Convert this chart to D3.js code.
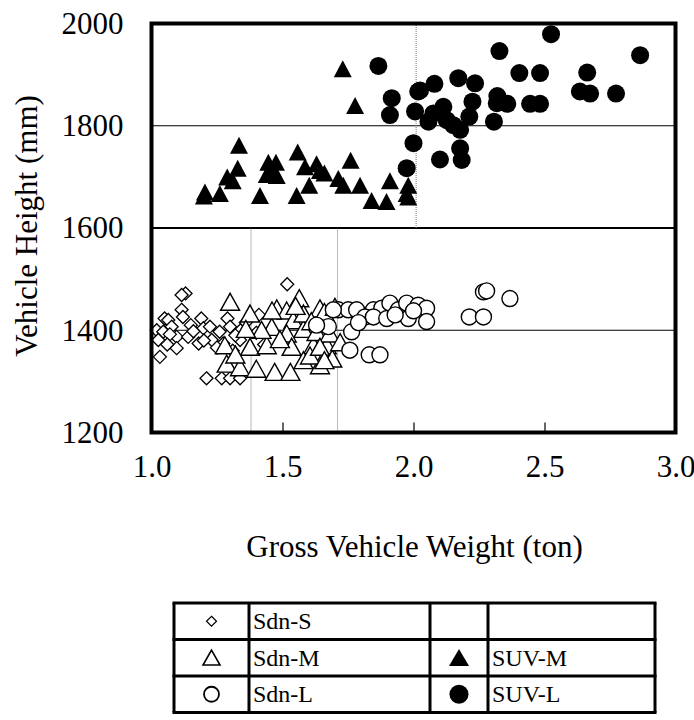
<!DOCTYPE html>
<html>
<head>
<meta charset="utf-8">
<script src="https://cdn.jsdelivr.net/npm/d3@7"></script>
<style>
  html, body { margin: 0; padding: 0; background: #fff; }
</style>
</head>
<body>
<svg id="chart" width="694" height="720"></svg>
<script>
// Gross vehicle weight (ton) vs. vehicle height (mm), by vehicle class
const sdnS = [
  [1.13,1472],[1.115,1469],[1.115,1440],[1.518,1490],[1.05,1423],[1.064,1420],[1.12,1426],
  [1.19,1423],[1.02,1400],[1.077,1407],[1.045,1397],[1.026,1381],[1.096,1387],[1.14,1387],
  [1.198,1404],[1.223,1407],[1.18,1374],[1.096,1365],[1.032,1348],[1.26,1397],[1.29,1423],
  [1.30,1407],[1.34,1400],[1.23,1381],[1.274,1374],[1.21,1306],[1.268,1306],[1.30,1306],
  [1.338,1306],[1.338,1381],[1.41,1430],[1.07,1392],[1.15,1410],[1.20,1380],[1.25,1366],
  [1.32,1390],[1.36,1415],[1.40,1395],[1.43,1372],[1.16,1398],[1.06,1372],[1.31,1360]
];
const sdnM = [
  [1.30,1453],[1.564,1460],[1.376,1430],[1.478,1440],[1.516,1436],[1.643,1440],[1.459,1404],
  [1.541,1417],[1.58,1400],[1.516,1391],[1.28,1368],[1.376,1365],[1.44,1368],[1.535,1365],
  [1.618,1368],[1.669,1368],[1.287,1332],[1.338,1325],[1.40,1322],[1.47,1316],[1.53,1316],
  [1.58,1339],[1.643,1329],[1.69,1342],[1.605,1348],[1.46,1436],[1.58,1430],[1.63,1394],
  [1.68,1391],[1.66,1433],[1.643,1365],[1.66,1339],[1.72,1374],[1.70,1443],[1.42,1398],
  [1.49,1380],[1.36,1400],[1.55,1445],[1.61,1415],[1.32,1350]
];
const sdnL = [
  [2.267,1475],[2.279,1477],[2.368,1462],[2.213,1426],[2.267,1426],[1.713,1440],[1.751,1440],
  [1.783,1440],[1.847,1440],[1.879,1443],[1.91,1453],[1.942,1440],[1.974,1453],[2.018,1449],
  [2.05,1443],[1.815,1426],[1.847,1426],[1.898,1423],[1.98,1423],[2.05,1417],[1.675,1407],
  [1.764,1397],[1.757,1361],[1.831,1352],[1.872,1352],[1.694,1440],[1.63,1410],[1.93,1430],
  [2.0,1438],[1.79,1415]
];
const suvM = [
  [1.73,1909],[1.777,1837],[1.334,1759],[1.558,1746],[1.446,1726],[1.475,1726],[1.76,1730],
  [1.329,1714],[1.586,1717],[1.63,1723],[1.289,1697],[1.44,1702],[1.478,1700],[1.643,1710],
  [1.66,1705],[1.713,1694],[1.732,1681],[1.796,1681],[1.602,1681],[1.91,1690],[1.204,1668],
  [1.261,1665],[1.414,1661],[1.554,1661],[1.84,1651],[1.897,1649],[1.974,1665],[1.98,1681],
  [1.98,1658],[1.20,1660],[1.31,1690],[1.46,1710]
];
const suvL = [
  [1.866,1917],[1.917,1854],[1.91,1821],[2.018,1867],[2.006,1828],[2.0,1766],[1.974,1717],
  [2.525,1979],[2.328,1946],[2.865,1938],[2.404,1903],[2.483,1903],[2.663,1904],[2.171,1893],
  [2.235,1883],[2.08,1882],[2.025,1869],[2.635,1867],[2.674,1863],[2.773,1863],[2.32,1858],
  [2.225,1847],[2.318,1844],[2.358,1843],[2.445,1843],[2.483,1843],[2.114,1837],[2.076,1824],
  [2.213,1818],[2.057,1808],[2.127,1811],[2.152,1801],[2.178,1792],[2.307,1808],[2.178,1756],
  [2.184,1733],[2.101,1734]
];
const xTicks = [1.0, 1.5, 2.0, 2.5, 3.0];
const yTicks = [1200, 1400, 1600, 1800, 2000];
const xTitle = "Gross Vehicle Weight (ton)";
const yTitle = "Vehicle Height (mm)";
const legendRows = [["Sdn-S", null], ["Sdn-M", "SUV-M"], ["Sdn-L", "SUV-L"]];

const FONT = "Liberation Serif";
const svg = d3.select("#chart");
const plotL = 151.5, plotR = 675.5, plotT = 23.5, plotB = 432.5;

const x = d3.scaleLinear().domain([1, 3]).range([plotL, plotR]);
const y = d3.scaleLinear().domain([1200, 2000]).range([plotB, plotT]);

// marker shapes
const shapes = {
  diamond: (s) => `M0,${-s}L${s},0L0,${s}L${-s},0Z`,
  triangle: (w, h) => `M0,${-h * 0.58}L${w / 2},${h * 0.42}L${-w / 2},${h * 0.42}Z`
};

// horizontal grid lines
const grid = svg.append("g");
[1400, 1800].forEach(v => grid.append("line")
  .attr("x1", plotL).attr("x2", plotR).attr("y1", y(v)).attr("y2", y(v))
  .attr("stroke", "#000").attr("stroke-width", 1.2));
grid.append("line")
  .attr("x1", plotL).attr("x2", plotR).attr("y1", y(1600)).attr("y2", y(1600))
  .attr("stroke", "#000").attr("stroke-width", 2.2);

// class boundary lines
const bounds = [[2.01, 1600, 2000], [1.38, 1200, 1600], [1.71, 1200, 1600]];
bounds.forEach(([bx, y0, y1]) => grid.append("line")
  .attr("x1", x(bx)).attr("x2", x(bx)).attr("y1", y(y0)).attr("y2", y(y1))
  .attr("stroke", "#777").attr("stroke-width", 1).attr("stroke-dasharray", "1,1"));

// inner tick marks along the bottom
const xAxis = d3.axisBottom(x).tickValues(xTicks).tickSize(-10).tickPadding(22)
  .tickFormat(d3.format(".1f"));
const gx = svg.append("g").attr("transform", `translate(0,${plotB})`).call(xAxis);
gx.select(".domain").remove();
gx.selectAll(".tick line").attr("stroke", "#000").attr("stroke-width", 1.2);
gx.selectAll(".tick text").attr("fill", "#000").attr("dy", "0.71em")
  .style("font-family", FONT).style("font-size", "31px");

const yAxis = d3.axisLeft(y).tickValues(yTicks).tickSize(0).tickPadding(28)
  .tickFormat(d3.format("d"));
const gy = svg.append("g").attr("transform", `translate(${plotL},0)`).call(yAxis);
gy.select(".domain").remove();
gy.selectAll(".tick text").attr("fill", "#000")
  .style("font-family", FONT).style("font-size", "31px");

// series
const plot = svg.append("g");
plot.selectAll(".sdnS").data(sdnS).join("path")
  .attr("d", shapes.diamond(6.5))
  .attr("transform", d => `translate(${x(d[0])},${y(d[1])})`)
  .attr("fill", "#fff").attr("stroke", "#000").attr("stroke-width", 1.3);
plot.selectAll(".sdnM").data(sdnM).join("path")
  .attr("d", shapes.triangle(19, 17))
  .attr("transform", d => `translate(${x(d[0])},${y(d[1])})`)
  .attr("fill", "#fff").attr("stroke", "#000").attr("stroke-width", 1.4);
plot.selectAll(".sdnL").data(sdnL).join("circle")
  .attr("cx", d => x(d[0])).attr("cy", d => y(d[1])).attr("r", 8)
  .attr("fill", "#fff").attr("stroke", "#000").attr("stroke-width", 1.4);
plot.selectAll(".suvM").data(suvM).join("path")
  .attr("d", shapes.triangle(18, 17))
  .attr("transform", d => `translate(${x(d[0])},${y(d[1])})`)
  .attr("fill", "#000");
plot.selectAll(".suvL").data(suvL).join("circle")
  .attr("cx", d => x(d[0])).attr("cy", d => y(d[1])).attr("r", 9)
  .attr("fill", "#000");

// plot frame
svg.append("rect")
  .attr("x", plotL).attr("y", plotT).attr("width", plotR - plotL).attr("height", plotB - plotT)
  .attr("fill", "none").attr("stroke", "#000").attr("stroke-width", 4);

// axis titles
svg.append("text").attr("x", (plotL + plotR) / 2 + 1).attr("y", 557)
  .attr("text-anchor", "middle").style("font-family", FONT).style("font-size", "31px")
  .text(xTitle);
svg.append("text").attr("transform", "translate(37,226) rotate(-90)")
  .attr("text-anchor", "middle").style("font-family", FONT).style("font-size", "31px")
  .text(yTitle);

// legend table
const lg = svg.append("g");
const colX = [174, 249, 430, 488, 655];
const rowY = [603, 639.5, 676, 712.5];
for (let i = 0; i < legendRows.length; i++) {
  const cy = (rowY[i] + rowY[i + 1]) / 2;
  const [a, b] = legendRows[i];
  const mx1 = (colX[0] + colX[1]) / 2, mx2 = (colX[2] + colX[3]) / 2;
  if (a === "Sdn-S") lg.append("path").attr("d", shapes.diamond(5))
    .attr("transform", `translate(${mx1},${cy})`).attr("fill", "#fff").attr("stroke", "#000").attr("stroke-width", 1.2);
  if (a === "Sdn-M") lg.append("path").attr("d", shapes.triangle(17, 15))
    .attr("transform", `translate(${mx1},${cy + 1})`).attr("fill", "#fff").attr("stroke", "#000").attr("stroke-width", 1.6);
  if (a === "Sdn-L") lg.append("circle").attr("cx", mx1).attr("cy", cy).attr("r", 7.5)
    .attr("fill", "#fff").attr("stroke", "#000").attr("stroke-width", 1.8);
  if (b === "SUV-M") lg.append("path").attr("d", shapes.triangle(20, 17))
    .attr("transform", `translate(${mx2},${cy + 1})`).attr("fill", "#000");
  if (b === "SUV-L") lg.append("circle").attr("cx", mx2).attr("cy", cy).attr("r", 9.5)
    .attr("fill", "#000");
  lg.append("text").attr("x", colX[1] + 4).attr("y", cy + 8)
    .style("font-family", FONT).style("font-size", "24px").text(a);
  if (b) lg.append("text").attr("x", colX[3] + 4).attr("y", cy + 8)
    .style("font-family", FONT).style("font-size", "24px").text(b);
}
rowY.forEach(ry => lg.append("line").attr("x1", colX[0] - 1.5).attr("x2", colX[4] + 1.5)
  .attr("y1", ry).attr("y2", ry).attr("stroke", "#000").attr("stroke-width", 3));
colX.forEach(cx => lg.append("line").attr("x1", cx).attr("x2", cx)
  .attr("y1", rowY[0]).attr("y2", rowY[3]).attr("stroke", "#000").attr("stroke-width", 3));
</script>
</body>
</html>
